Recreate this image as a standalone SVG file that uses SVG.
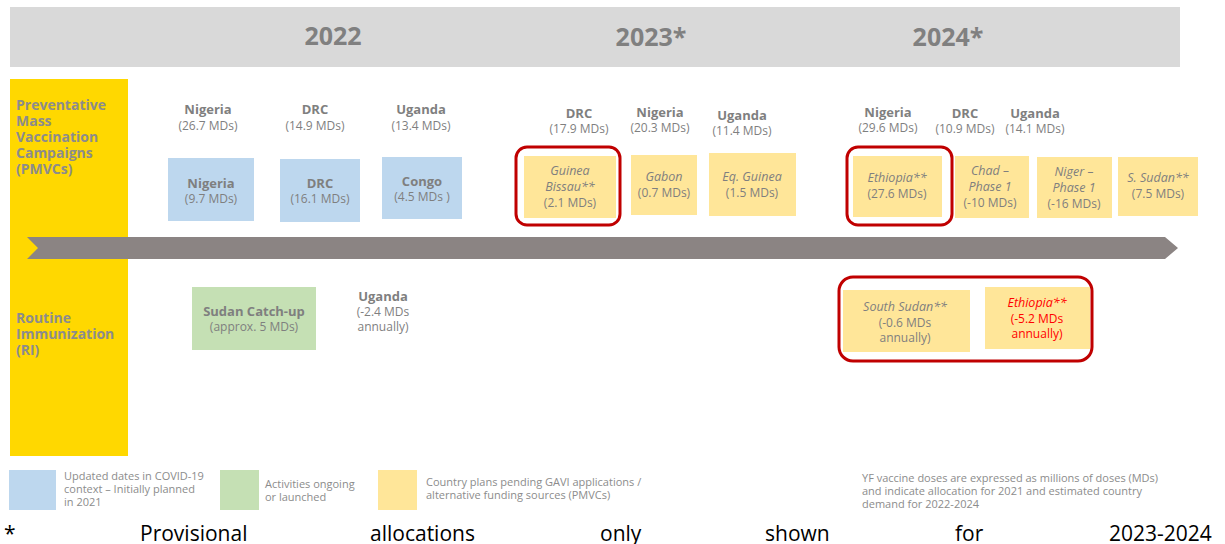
<svg xmlns="http://www.w3.org/2000/svg" width="1225" height="544" viewBox="0 0 1225 544">
<style>
text{font-family:"Open Sans","Noto Sans","Liberation Sans",sans-serif;fill:#7f7f7f}
.yr{font-size:25px;font-weight:bold;text-anchor:middle;fill:#808080}
.row{font-size:14px;font-weight:bold;fill:#8c8c8c}
.n{font-size:13px;font-weight:bold;text-anchor:middle}
.v{font-size:12px;text-anchor:middle}
.i{font-size:12.5px;font-style:italic;text-anchor:middle}
.lg{font-size:11px;fill:#8c8c8c}
.ft{font-size:21px;fill:#000}
.blue{fill:#bdd7ee}.green{fill:#c5e0b4}.yel{fill:#ffe699}
.hl{fill:none;stroke:#c00000;stroke-width:3}
.red{fill:#ff0000}
</style>
<g id="header">
<rect x="10" y="7" width="1170" height="60" fill="#d9d9d9"/>
<text class="yr" x="333" y="45">2022</text>
<text class="yr" x="651" y="46">2023*</text>
<text class="yr" x="948" y="46">2024*</text>
</g>
<g id="sidebar">
<rect x="10" y="79" width="118" height="377" fill="#ffd800"/>
<text class="row" x="16" y="110">Preventative</text>
<text class="row" x="16" y="126">Mass</text>
<text class="row" x="16" y="142">Vaccination</text>
<text class="row" x="16" y="158">Campaigns</text>
<text class="row" x="16" y="174">(PMVCs)</text>
<text class="row" x="16" y="323">Routine</text>
<text class="row" x="16" y="339">Immunization</text>
<text class="row" x="16" y="355">(RI)</text>
</g>
<g id="connectors">
<polygon points="27,237 1165,237 1178,248 1165,259 27,259 38,248" fill="#8b8483"/>
</g>
<g id="n2022-labels">
<text class="n" x="208" y="114">Nigeria</text><text class="v" x="208" y="130">(26.7 MDs)</text>
<text class="n" x="315" y="114">DRC</text><text class="v" x="315" y="130">(14.9 MDs)</text>
<text class="n" x="421" y="114">Uganda</text><text class="v" x="421" y="130">(13.4 MDs)</text>
</g>
<g id="b-nigeria"><rect class="blue" x="168" y="158" width="86" height="63"/>
<text class="n" x="211" y="188">Nigeria</text><text class="v" x="211" y="203">(9.7 MDs)</text></g>
<g id="b-drc"><rect class="blue" x="280" y="159" width="80" height="63"/>
<text class="n" x="320" y="188">DRC</text><text class="v" x="320" y="203">(16.1 MDs)</text></g>
<g id="b-congo"><rect class="blue" x="382" y="157" width="80" height="62"/>
<text class="n" x="422" y="186">Congo</text><text class="v" x="422" y="201">(4.5 MDs )</text></g>
<g id="n2023-labels">
<text class="n" x="579" y="118">DRC</text><text class="v" x="579" y="133">(17.9 MDs)</text>
<text class="n" x="660" y="117">Nigeria</text><text class="v" x="660" y="132">(20.3 MDs)</text>
<text class="n" x="742" y="120">Uganda</text><text class="v" x="742" y="135">(11.4 MDs)</text>
</g>
<g id="y-guinea-bissau"><rect class="yel" x="524" y="156" width="92" height="62"/>
<rect class="hl" x="516" y="147" width="104" height="78" rx="11"/>
<text class="i" x="570" y="175">Guinea</text><text class="i" x="570" y="191">Bissau**</text><text class="v" x="570" y="207">(2.1 MDs)</text></g>
<g id="y-gabon"><rect class="yel" x="631" y="155" width="66" height="60"/>
<text class="i" x="664" y="181">Gabon</text><text class="v" x="664" y="197">(0.7 MDs)</text></g>
<g id="y-eqguinea"><rect class="yel" x="709" y="153" width="87" height="63"/>
<text class="i" x="752" y="181">Eq. Guinea</text><text class="v" x="752" y="197">(1.5 MDs)</text></g>
<g id="n2024-labels">
<text class="n" x="888" y="117">Nigeria</text><text class="v" x="888" y="132">(29.6 MDs)</text>
<text class="n" x="965" y="118">DRC</text><text class="v" x="965" y="133">(10.9 MDs)</text>
<text class="n" x="1035" y="118">Uganda</text><text class="v" x="1035" y="133">(14.1 MDs)</text>
</g>
<g id="y-ethiopia"><rect class="yel" x="853" y="156" width="89" height="61"/>
<rect class="hl" x="847" y="147" width="105" height="78" rx="11"/>
<text class="i" x="897" y="182">Ethiopia**</text><text class="v" x="897" y="198">(27.6 MDs)</text></g>
<g id="y-chad"><rect class="yel" x="955" y="156" width="74" height="62"/>
<text class="i" x="990" y="175">Chad –</text><text class="i" x="990" y="191">Phase 1</text><text class="v" x="990" y="207">(-10 MDs)</text></g>
<g id="y-niger"><rect class="yel" x="1037" y="157" width="75" height="61"/>
<text class="i" x="1074" y="176">Niger –</text><text class="i" x="1074" y="192">Phase 1</text><text class="v" x="1074" y="208">(-16 MDs)</text></g>
<g id="y-ssudan"><rect class="yel" x="1118" y="157" width="80" height="59"/>
<text class="i" x="1158" y="182">S. Sudan**</text><text class="v" x="1158" y="198">(7.5 MDs)</text></g>
<g id="g-sudan"><rect class="green" x="192" y="287" width="124" height="63"/>
<text class="n" x="254" y="316">Sudan Catch-up</text><text class="v" x="254" y="331">(approx. 5 MDs)</text></g>
<g id="ri-uganda">
<text class="n" x="383" y="301">Uganda</text><text class="v" x="383" y="316">(-2.4 MDs</text><text class="v" x="383" y="331">annually)</text></g>
<g id="ri-highlight"><rect class="hl" x="839" y="277" width="253" height="84" rx="14"/></g>
<g id="y-south-sudan"><rect class="yel" x="843" y="290" width="127" height="62"/>
<text class="i" x="905" y="311">South Sudan**</text><text class="v" x="905" y="327">(-0.6 MDs</text><text class="v" x="905" y="342">annually)</text></g>
<g id="y-ethiopia-ri"><rect class="yel" x="985" y="287" width="105" height="62"/>
<text class="i red" x="1037" y="307">Ethiopia**</text><text class="v red" x="1037" y="323">(-5.2 MDs</text><text class="v red" x="1037" y="338">annually)</text></g>
<g id="legend">
<rect class="blue" x="9" y="470" width="47" height="40"/>
<text class="lg" x="64" y="480">Updated dates in COVID-19</text>
<text class="lg" x="64" y="493">context – Initially planned</text>
<text class="lg" x="64" y="506">in 2021</text>
<rect class="green" x="220" y="470" width="39" height="40"/>
<text class="lg" x="265" y="488">Activities ongoing</text>
<text class="lg" x="265" y="501">or launched</text>
<rect class="yel" x="378" y="470" width="39" height="40"/>
<text class="lg" x="426" y="486">Country plans pending GAVI applications /</text>
<text class="lg" x="426" y="499">alternative funding sources (PMVCs)</text>
<text class="lg" x="862" y="482">YF vaccine doses are expressed as millions of doses (MDs)</text>
<text class="lg" x="862" y="495">and indicate allocation for 2021 and estimated country</text>
<text class="lg" x="862" y="508">demand for 2022-2024</text>
</g>
<g id="footer">
<text class="ft" x="4" y="541">*</text>
<text class="ft" x="140" y="541">Provisional</text>
<text class="ft" x="370" y="541">allocations</text>
<text class="ft" x="600" y="541">only</text>
<text class="ft" x="765" y="541">shown</text>
<text class="ft" x="955" y="541">for</text>
<text class="ft" x="1109" y="541">2023-2024</text>
</g>
</svg>
